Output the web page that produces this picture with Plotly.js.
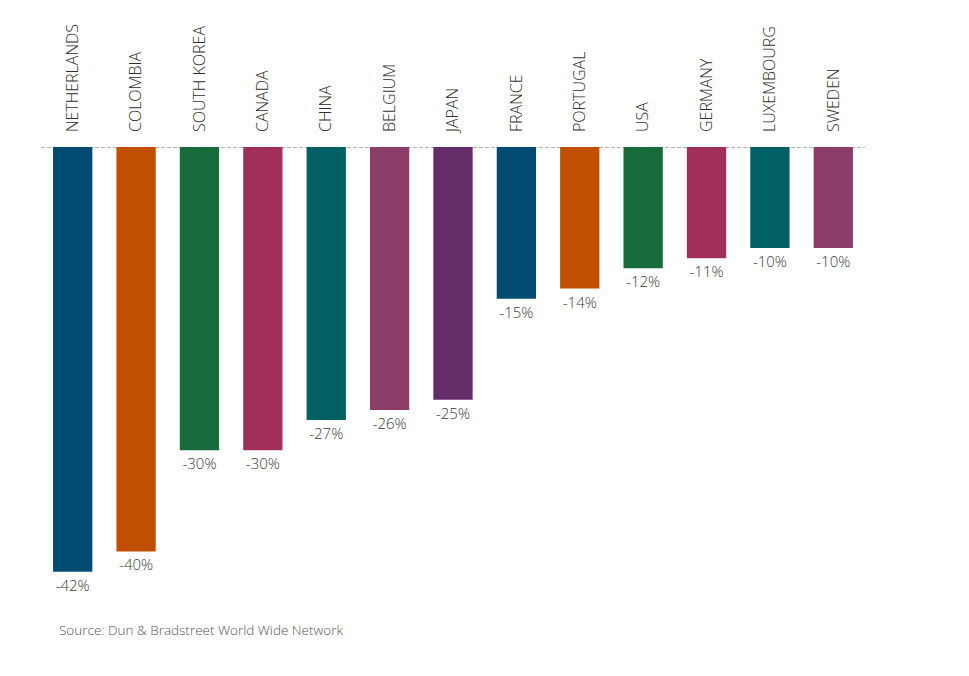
<!DOCTYPE html>
<html><head><meta charset="utf-8">
<script src="https://cdn.plot.ly/plotly-3.0.1.min.js"></script>
<style>body{margin:0;background:#fff}#chart{width:969px;height:676px}</style>
</head><body><div id="chart"></div>
<script>
const countries = ["NETHERLANDS","COLOMBIA","SOUTH KOREA","CANADA","CHINA","BELGIUM","JAPAN","FRANCE","PORTUGAL","USA","GERMANY","LUXEMBOURG","SWEDEN"];
const changes = [-42,-40,-30,-30,-27,-26,-25,-15,-14,-12,-11,-10,-10];
const barColors = ["#024B70","#C14F00","#176B3A","#A0305A","#016063","#8B3D67","#642C69","#024B70","#C14F00","#176B3A","#A0305A","#016063","#8B3D67"];
const sourceNote = "Source: Dun &amp; Bradstreet World Wide Network";

const fontFam = "'Open Sans', sans-serif";
const trace = {
  type: "bar",
  x: countries,
  y: changes,
  marker: {color: barColors},
  text: changes.map(v => v + "%"),
  textposition: "outside",
  textfont: {family: fontFam, size: 15, color: "#3a3a3a", weight: 300},
  cliponaxis: false,
  hoverinfo: "none"
};
const layout = {
  width: 969, height: 676,
  margin: {l: 41, r: 104, t: 147, b: 74},
  paper_bgcolor: "#fff", plot_bgcolor: "#fff",
  showlegend: false,
  bargap: 0.38,
  font: {family: fontFam, color: "#444"},
  xaxis: {
    type: "category", side: "top", tickangle: -90,
    showline: false, showgrid: false, zeroline: false, ticks: "",
    tickfont: {family: fontFam, size: 16, color: "#2e2e2e", weight: 300},
    ticklabelstandoff: 14,
    range: [-0.5, 12.5]
  },
  yaxis: {range: [-45, 0], visible: false, showgrid: false, zeroline: false},
  shapes: [{type: "line", xref: "paper", x0: 0, x1: 1, yref: "y", y0: 0, y1: 0,
    line: {color: "#666", width: 1, dash: "4px,2px"}, layer: "below"}],
  annotations: [{xref: "paper", yref: "paper", x: 0.02, y: -0.037, xanchor: "left", yanchor: "top",
    text: sourceNote, showarrow: false, font: {family: fontFam, size: 13.5, color: "#555", weight: 300}}]
};
Plotly.newPlot("chart", [trace], layout, {staticPlot: true});
</script></body></html>
